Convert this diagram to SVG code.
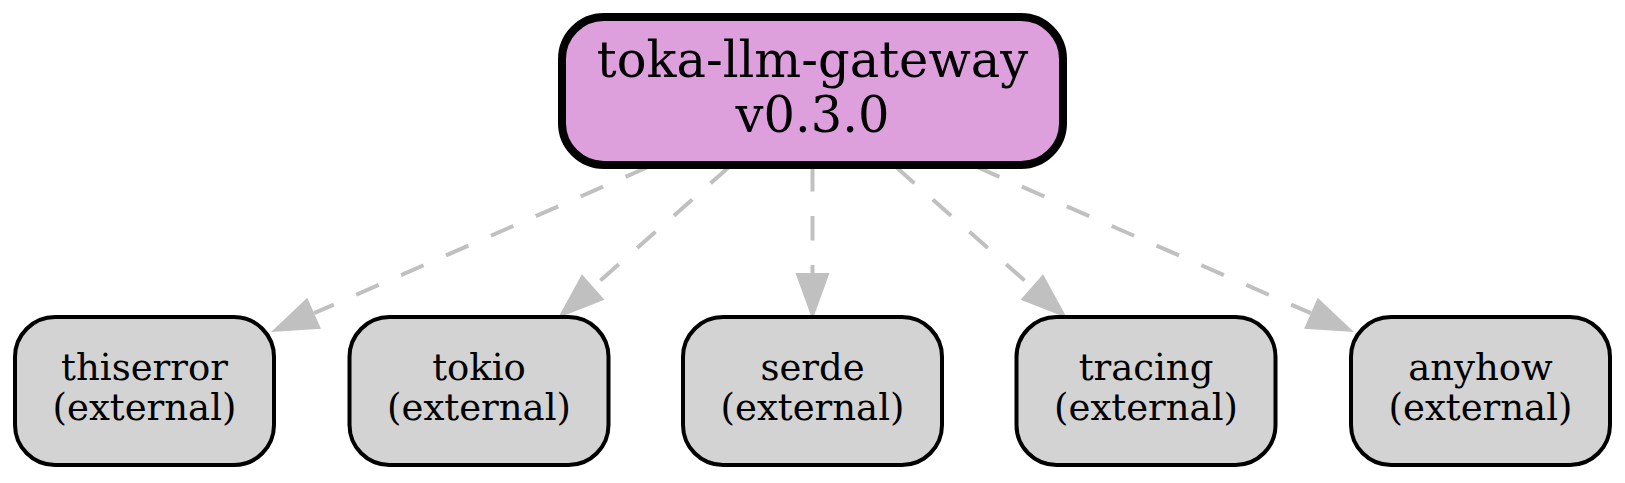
<svg xmlns="http://www.w3.org/2000/svg" width="1625" height="483" viewBox="0 0 1625 483">
<style>
.bg{fill:#ffffff}
.root rect{fill:#dda0dd;stroke:#000;stroke-width:8}
.ext rect{fill:#d3d3d3;stroke:#000;stroke-width:4}
text{font-family:"DejaVu Serif","Liberation Serif",serif;fill:#000;text-anchor:middle}
.root text{font-size:49.5px}
.ext text{font-size:37px}
.edge{stroke:#c0c0c0;stroke-width:4;stroke-dasharray:24.5,24.5;fill:none;marker-end:url(#arr)}
</style>
<defs>
<marker id="arr" markerUnits="userSpaceOnUse" viewBox="0 -17 47 34" markerWidth="47" markerHeight="34" refX="0" refY="0" orient="auto" overflow="visible">
<path d="M0,-17 L47,0 L0,17 z" fill="#c0c0c0"/>
</marker>
</defs>
<rect class="bg" x="0" y="0" width="1625" height="483"/>
<g id="edges">
<line class="edge" x1="648" y1="167" x2="314.1" y2="313.2"/>
<line class="edge" x1="729" y1="167" x2="593.2" y2="286.9"/>
<line class="edge" x1="812.5" y1="167" x2="812.5" y2="273"/>
<line class="edge" x1="896" y1="167" x2="1031.8" y2="286.9"/>
<line class="edge" x1="977" y1="167" x2="1310.9" y2="313.2"/>
</g>
<g id="toka-llm-gateway" class="root">
<rect x="562" y="17" width="501" height="148" rx="42" ry="42"/>
<text x="812.5" y="77">toka-llm-gateway</text>
<text x="812.5" y="132">v0.3.0</text>
</g>
<g id="thiserror" class="ext">
<rect x="15" y="317" width="259" height="148" rx="40" ry="40"/>
<text x="144.5" y="380">thiserror</text>
<text x="144.5" y="420">(external)</text>
</g>
<g id="tokio" class="ext">
<rect x="349.5" y="317" width="259" height="148" rx="40" ry="40"/>
<text x="479" y="380">tokio</text>
<text x="479" y="420">(external)</text>
</g>
<g id="serde" class="ext">
<rect x="683" y="317" width="259" height="148" rx="40" ry="40"/>
<text x="812.5" y="380">serde</text>
<text x="812.5" y="420">(external)</text>
</g>
<g id="tracing" class="ext">
<rect x="1016.5" y="317" width="259" height="148" rx="40" ry="40"/>
<text x="1146" y="380">tracing</text>
<text x="1146" y="420">(external)</text>
</g>
<g id="anyhow" class="ext">
<rect x="1351" y="317" width="259" height="148" rx="40" ry="40"/>
<text x="1480.5" y="380">anyhow</text>
<text x="1480.5" y="420">(external)</text>
</g>
</svg>
